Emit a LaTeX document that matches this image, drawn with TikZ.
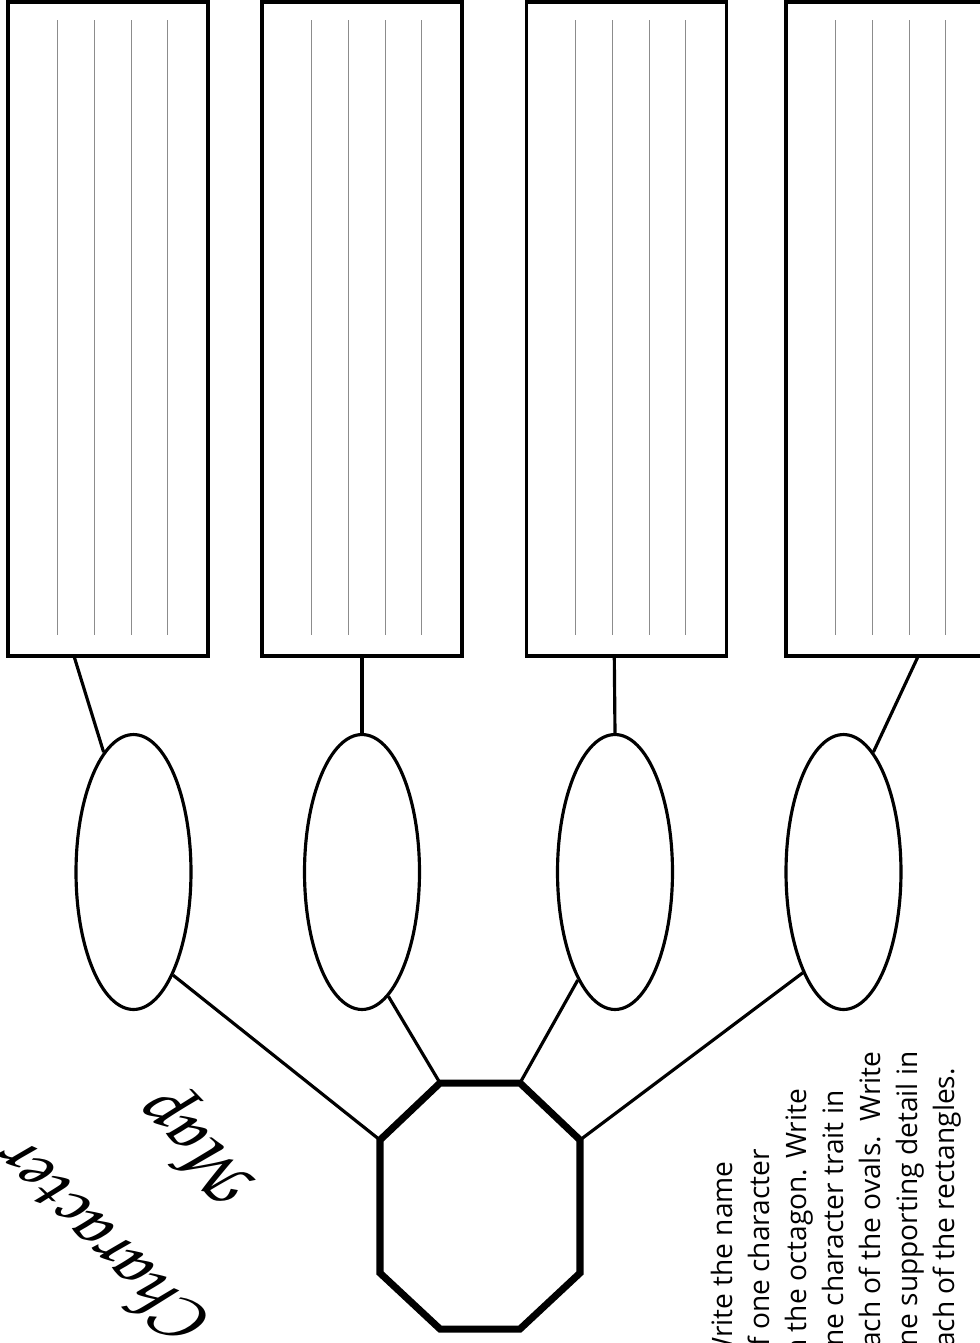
\documentclass[tikz,border=0pt]{standalone}
\usepackage[T1,TU]{fontenc}
\usepackage{fontspec}
\newfontfamily\notefont{Open Sans}
\usetikzlibrary{calc}
\usetikzlibrary{shapes.geometric}
\newcommand{\titlefont}{\fontencoding{T1}\fontfamily{pzc}\fontseries{mb}\fontshape{it}\selectfont}

\begin{document}
\begin{tikzpicture}[x=0.02cm, y=-0.02cm,
    card/.style={rectangle, draw=black, line width=1.9pt, minimum width=4cm, minimum height=13.08cm},
    rule/.style={draw=black!45, line width=0.5pt},
    oval/.style={ellipse, draw=black, line width=1.8pt, inner sep=0pt, minimum width=2.3cm, minimum height=5.5cm},
    link/.style={line width=1.8pt}]
    \useasboundingbox (0,0) rectangle (980,1343);
    \clip (0,0) rectangle (980,1343);

    \node [card] (r1) at (108,329) {};
    \node [card] (r2) at (362,329) {};
    \node [card] (r3) at (626.5,329) {};
    \node [card] (r4) at (886,329) {};
    \foreach \r in {r1,r2,r3,r4}
        \foreach \dx in {51,88,125,161}
            \draw [rule] ($(\r.north west)+(\dx,20)$) -- ($(\r.south west)+(\dx,-23)$);

    \node [oval] (e1) at (133.5,872) {};
    \node [oval] (e2) at (362,872) {};
    \node [oval] (e3) at (615,872) {};
    \node [oval] (e4) at (843.5,872) {};

    \coordinate (o1) at (440,1083);
    \coordinate (o2) at (520,1083);
    \coordinate (o3) at (580,1140);
    \coordinate (o4) at (580,1273);
    \coordinate (o5) at (520,1329);
    \coordinate (o6) at (440,1329);
    \coordinate (o7) at (380,1273);
    \coordinate (o8) at (380,1140);
    \draw [line width=4pt, line join=miter] (o1) -- (o2) -- (o3) -- (o4) -- (o5) -- (o6) -- (o7) -- (o8) -- cycle;

    \draw [link] ($(r1.south west)!0.335!(r1.south east)$) -- (e1.104);
    \draw [link] (r2.south) -- (e2.north);
    \draw [link] ($(r3.south west)!0.44!(r3.south east)$) -- (e3.north);
    \draw [link] ($(r4.south west)!0.655!(r4.south east)$) -- (e4.76);
    \draw [link] (e1.-69) -- (o8);
    \draw [link] (e2.-78) -- (o1);
    \draw [link] (e3.-109) -- (o2);
    \draw [link] (e4.-112) -- (o3);

    \node [rotate=135, align=center, font=\titlefont\fontsize{44}{76}\selectfont] (title) at (155,1195) {Character\\Map};
    \node [rotate=90, anchor=north west, inner sep=0pt, align=left, font=\notefont\fontsize{16}{21}\selectfont] (note) at (711,1364) {Write the name\\of one character\\in the octagon. Write\\one character trait in\\each of the ovals.~~Write\\one supporting detail in\\each of the rectangles.};
\end{tikzpicture}
\end{document}
